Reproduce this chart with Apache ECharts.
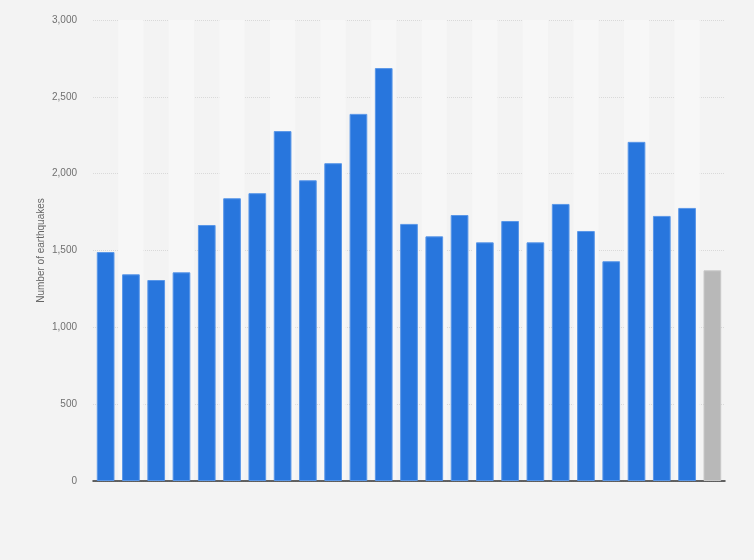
<!DOCTYPE html>
<html>
<head>
<meta charset="utf-8">
<script src="https://cdn.jsdelivr.net/npm/echarts@6/dist/echarts.min.js"></script>
<style>
html,body{margin:0;padding:0;background:#f3f3f3;}
#chart{width:754px;height:560px;}
</style>
</head>
<body>
<div id="chart"></div>
<script>
const categories = ['2000','2001','2002','2003','2004','2005','2006','2007','2008','2009','2010','2011','2012','2013','2014','2015','2016','2017','2018','2019','2020','2021','2022','2023','2024'];
const earthquakes = [1490, 1345, 1308, 1358, 1666, 1840, 1873, 2277, 1957, 2068, 2389, 2687, 1673, 1592, 1731, 1553, 1692, 1553, 1803, 1627, 1430, 2207, 1725, 1777, 1371];
const highlightedIndex = 24;
const yTicks = { min: 0, max: 3000, interval: 500 };
const yAxisTitle = 'Number of earthquakes';

const chart = echarts.init(document.getElementById('chart'), null, {renderer: 'canvas'});
chart.setOption({
  backgroundColor: '#f3f3f3',
  animation: false,
  grid: { left: 93, right: 29, top: 20, bottom: 79, containLabel: false },
  xAxis: {
    type: 'category',
    data: categories,
    axisLine: { show: true, lineStyle: { color: '#333333', width: 1.5 } },
    axisTick: { show: false },
    axisLabel: { show: false, interval: 0 },
    splitArea: { show: true, interval: 0, areaStyle: { color: ['rgba(0,0,0,0)', '#f7f7f7'] } },
    splitLine: { show: false }
  },
  yAxis: {
    type: 'value',
    min: yTicks.min, max: yTicks.max, interval: yTicks.interval,
    name: yAxisTitle,
    nameLocation: 'middle',
    nameGap: 47,
    nameMoveOverlap: false,
    nameTextStyle: { color: '#666666', fontSize: 10, fontFamily: 'Liberation Sans, Arial, sans-serif' },
    axisLine: { show: false },
    axisTick: { show: false },
    axisLabel: {
      color: '#707070', fontSize: 10, margin: 16,
      fontFamily: 'Liberation Sans, Arial, sans-serif',
      formatter: v => v.toLocaleString('en-US')
    },
    splitLine: { show: true, lineStyle: { color: '#d9d9d9', type: [1, 1], width: 1 } }
  },
  series: [{
    type: 'bar',
    barWidth: '70%',
    data: earthquakes.map((v, i) => i === highlightedIndex
      ? { value: v, itemStyle: { color: '#b8b8b8', borderColor: '#c8c8c8' } }
      : v),
    itemStyle: { color: '#2876dd', borderColor: '#5a97e8', borderWidth: 1 }
  }]
});
</script>
</body>
</html>
